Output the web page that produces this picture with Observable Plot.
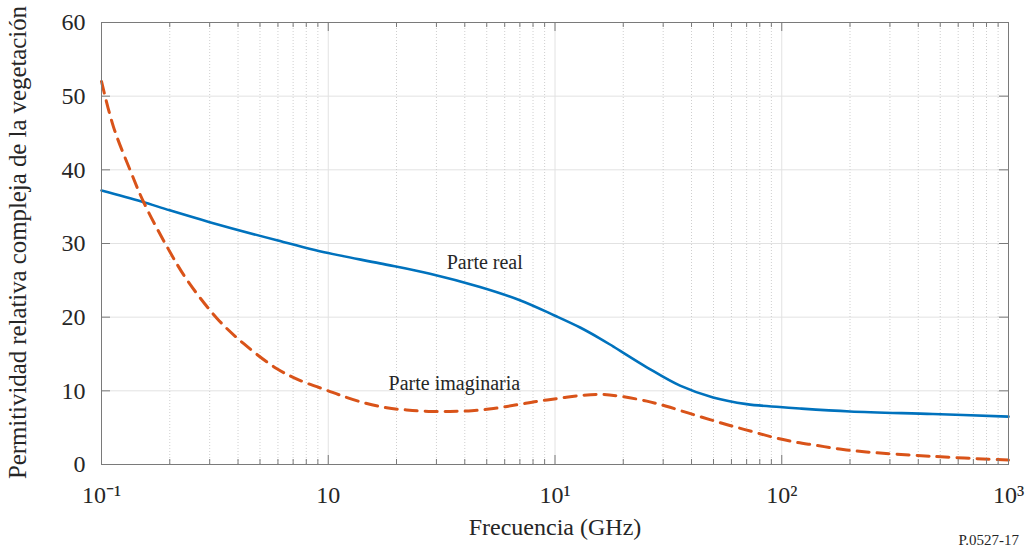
<!DOCTYPE html>
<html><head><meta charset="utf-8">
<script src="https://cdn.jsdelivr.net/npm/d3@7"></script>
<script src="https://cdn.jsdelivr.net/npm/@observablehq/plot@0.6"></script>
<style>
body{margin:0;background:#fff}
svg, svg text {font-family: "Liberation Serif", "Times New Roman", serif !important;}
</style>
</head><body><div id="chart"></div>
<script>
// Parte real (blue, solid)
const realFreq   = [0.1, 0.15, 0.2, 0.3, 0.6, 1.0, 1.69, 2.81, 4.67, 7.0, 10, 12.9, 15.8, 18.1, 25.4, 35.6, 49.8, 70, 98, 120, 200, 464, 1000];
const realValues = [37.2, 35.7, 34.5, 32.9, 30.4, 28.7, 27.3, 25.9, 24.1, 22.3, 20.2, 18.6, 17.1, 16.0, 13.2, 10.7, 9.1, 8.2, 7.8, 7.6, 7.2, 6.85, 6.5];
// Parte imaginaria (orange, dashed)
const imagFreq   = [0.1, 0.113, 0.134, 0.1535, 0.195, 0.239, 0.324, 0.424, 0.594, 0.753, 1.0, 1.13, 1.43, 1.81, 2.22, 2.77, 3.44, 4.29, 5.35, 6.77, 8.45, 10.5, 13.3, 16.3, 20, 25.4, 31, 38.6, 48.2, 59, 73.5, 91.5, 112, 142, 180, 236, 464, 1000];
const imagValues = [52.0, 45.8, 39.9, 35.6, 29.5, 25.0, 19.8, 16.4, 13.0, 11.4, 10.0, 9.4, 8.4, 7.7, 7.4, 7.2, 7.2, 7.3, 7.6, 8.1, 8.6, 9.0, 9.4, 9.5, 9.2, 8.6, 7.9, 7.0, 6.1, 5.3, 4.5, 3.7, 3.1, 2.6, 2.1, 1.7, 1.1, 0.6];

const xTicks = [0.1, 1, 10, 100, 1000];
const xTickLabels = ["10\u207B\u00B9", "10", "10\u00B9", "10\u00B2", "10\u00B3"];
const yTicks = [0, 10, 20, 30, 40, 50, 60];

const curveLabels = ["Parte real", "Parte imaginaria"];
const curveLabelFreq = [4.9, 3.6];
const curveLabelValue = [27.4, 11.0];

const xLabel = "Frecuencia (GHz)";
const yLabel = "Permitividad relativa compleja de la vegetación";
const figId = "P.0527-17";

const W = 1033, H = 550, mL = 101, mR = 25, mT = 22, mB = 86;
const frameW = W - mL - mR, frameH = H - mT - mB;
const minorTicks = d3.range(-1, 3).flatMap(e => d3.range(2, 10).map(m => m * Math.pow(10, e)));

const real = realFreq.map((f, i) => ({f, v: realValues[i]}));
const imag = imagFreq.map((f, i) => ({f, v: imagValues[i]}));
const labels = curveLabels.map((t, i) => ({t, f: curveLabelFreq[i], v: curveLabelValue[i]}));
const axisColor = "#7a7a7a";
const textColor = "#262626";
const serif = "Liberation Serif";

const chart = Plot.plot({
  width: W, height: H,
  marginLeft: mL, marginRight: mR, marginTop: mT, marginBottom: mB,
  style: {fontFamily: serif, fontSize: "20px", background: "#fff", color: textColor},
  x: {type: "log", domain: [0.1, 1000]},
  y: {domain: [0, 60]},
  marks: [
    Plot.gridY(yTicks, {stroke: "#e2e2e2", strokeOpacity: 1}),
    Plot.gridX(minorTicks, {stroke: "#cfcfcf", strokeOpacity: 1, strokeDasharray: "1,2"}),
    Plot.gridX(xTicks, {stroke: "#e2e2e2", strokeOpacity: 1}),
    Plot.line(real, {x: "f", y: "v", stroke: "#0072BD", strokeWidth: 2.6, curve: "catmull-rom"}),
    Plot.line(imag, {x: "f", y: "v", stroke: "#D95319", strokeWidth: 3, strokeDasharray: "12,8", curve: "catmull-rom"}),
    Plot.frame({stroke: axisColor}),
    // inward ticks
    Plot.ruleX(xTicks, {x: d => d, insetTop: frameH - 9, stroke: axisColor}),
    Plot.ruleX(xTicks, {x: d => d, insetBottom: frameH - 9, stroke: axisColor}),
    Plot.ruleX(minorTicks, {x: d => d, insetTop: frameH - 5, stroke: axisColor}),
    Plot.ruleX(minorTicks, {x: d => d, insetBottom: frameH - 5, stroke: axisColor}),
    Plot.ruleY(yTicks, {y: d => d, insetRight: frameW - 9, stroke: axisColor}),
    Plot.ruleY(yTicks, {y: d => d, insetLeft: frameW - 9, stroke: axisColor}),
    Plot.axisX(xTicks, {tickSize: 0, tickPadding: 21, fontSize: 24, fontFamily: serif, tickFormat: d => xTickLabels[xTicks.indexOf(d)], label: null, fill: textColor}),
    Plot.axisY(yTicks, {tickSize: 0, tickPadding: 16, fontSize: 24, fontFamily: serif, label: null, fill: textColor}),
    Plot.text(labels, {x: "f", y: "v", text: "t", fontSize: 20, fontFamily: serif, fill: textColor}),
    Plot.text([xLabel], {frameAnchor: "bottom", dy: 70, fontSize: 24, fontFamily: serif, fill: textColor}),
    Plot.text([yLabel], {frameAnchor: "left", textAnchor: "middle", dx: -83, dy: -1, rotate: -90, fontSize: 24.8, fontFamily: serif, fill: textColor}),
    Plot.text([figId], {frameAnchor: "bottom-right", textAnchor: "start", dx: -50, dy: 80, fontSize: 15, fontFamily: serif, fill: textColor})
  ]
});
chart.querySelectorAll("text").forEach(t => t.style.fontFamily = "'Liberation Serif', 'Times New Roman', serif");
document.getElementById("chart").appendChild(chart);
</script>
</body></html>
